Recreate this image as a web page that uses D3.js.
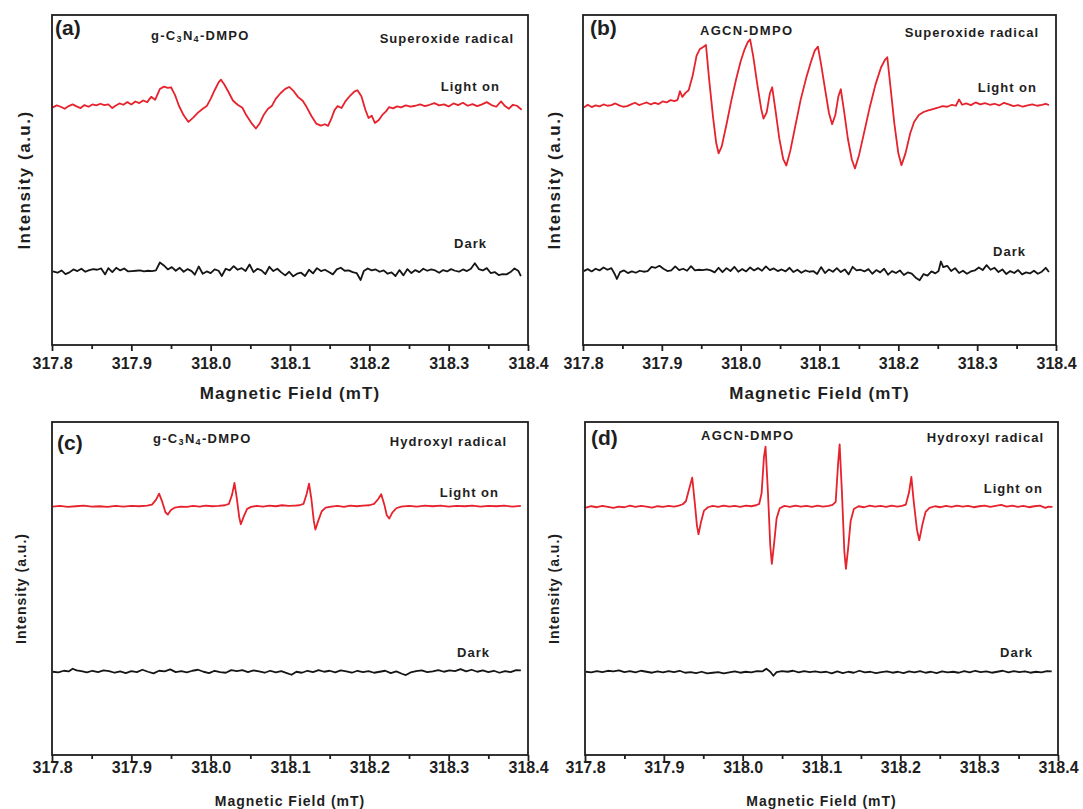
<!DOCTYPE html>
<html lang="en">
<head>
<meta charset="utf-8">
<title>EPR DMPO spin trapping</title>
<script src="https://cdn.jsdelivr.net/npm/d3@7"></script>
<style>
body { margin: 0; background: #fff; }
svg text { font-family: Arial, "Liberation Sans", sans-serif; font-weight: bold; fill: #1e1e1e; }
</style>
</head>
<body>
<div id="wrapper"></div>
<script>
// ---- data (magnetic field in mT, intensity in arbitrary units 0-100 of the frame) ----
const fieldDomain = [317.8, 318.4]
const fieldTicks = [317.8, 317.9, 318.0, 318.1, 318.2, 318.3, 318.4]
const fieldMinorTicks = [317.85, 317.95, 318.05, 318.15, 318.25, 318.35]
const panelLetters = ["(a)", "(b)", "(c)", "(d)"]
const sampleNames = ["g-C3N4-DMPO", "AGCN-DMPO", "g-C3N4-DMPO", "AGCN-DMPO"]
const radicalNames = ["Superoxide radical", "Superoxide radical", "Hydroxyl radical", "Hydroxyl radical"]
const seriesNames = ["Light on", "Dark"]
const xTitle = "Magnetic Field (mT)"
const yTitle = "Intensity (a.u.)"

const aLight = [[317.801,72.0],[317.806,72.6],[317.811,72.2],[317.816,71.6],[317.821,72.4],[317.826,72.9],[317.831,72.3],[317.836,71.8],[317.841,72.7],[317.846,72.2],[317.851,72.9],[317.856,72.6],[317.861,73.1],[317.866,72.7],[317.871,72.9],[317.876,71.8],[317.880,72.5],[317.885,73.2],[317.890,72.8],[317.895,73.6],[317.900,72.9],[317.905,73.8],[317.910,73.3],[317.915,74.1],[317.920,73.6],[317.925,75.2],[317.930,74.3],[317.936,77.6],[317.941,78.3],[317.946,77.9],[317.950,78.1],[317.955,75.8],[317.960,72.5],[317.966,69.6],[317.972,67.6],[317.978,68.9],[317.984,70.4],[317.990,71.6],[317.995,72.4],[318.000,74.6],[318.005,77.2],[318.010,79.6],[318.013,80.4],[318.017,79.0],[318.022,76.9],[318.028,74.1],[318.034,72.8],[318.040,71.9],[318.045,69.6],[318.051,67.4],[318.057,65.6],[318.062,67.2],[318.067,69.8],[318.072,71.5],[318.077,72.4],[318.082,74.6],[318.088,76.3],[318.094,77.6],[318.099,78.2],[318.104,77.1],[318.110,75.2],[318.116,74.0],[318.121,72.1],[318.127,69.4],[318.133,67.1],[318.139,66.5],[318.144,66.9],[318.148,66.4],[318.152,68.5],[318.156,71.1],[318.160,72.4],[318.165,71.8],[318.170,73.9],[318.176,75.6],[318.181,76.8],[318.185,77.2],[318.190,75.4],[318.195,71.3],[318.199,68.8],[318.203,69.5],[318.207,67.3],[318.212,68.2],[318.217,69.9],[318.221,70.8],[318.225,72.1],[318.230,71.7],[318.235,72.3],[318.240,72.0],[318.246,72.6],[318.252,72.2],[318.258,72.5],[318.264,72.9],[318.270,72.4],[318.276,72.8],[318.282,73.3],[318.288,72.6],[318.294,72.9],[318.300,72.3],[318.306,73.2],[318.312,72.7],[318.318,73.4],[318.324,72.5],[318.330,73.0],[318.336,72.4],[318.342,72.9],[318.348,73.6],[318.354,72.7],[318.360,72.2],[318.366,73.8],[318.371,72.4],[318.376,71.6],[318.381,72.8],[318.386,72.5],[318.392,71.3]]

const aDark = [[317.801,22.3],[317.807,21.9],[317.812,22.6],[317.817,21.5],[317.822,22.0],[317.827,22.9],[317.832,22.4],[317.837,23.1],[317.842,22.2],[317.847,22.7],[317.852,23.0],[317.857,22.8],[317.862,23.2],[317.867,21.4],[317.871,23.3],[317.876,22.1],[317.881,23.4],[317.886,22.6],[317.891,23.2],[317.896,22.3],[317.901,22.4],[317.906,22.5],[317.911,22.6],[317.916,22.3],[317.921,22.5],[317.926,22.4],[317.931,22.6],[317.936,25.0],[317.941,24.1],[317.946,22.9],[317.951,23.6],[317.956,22.5],[317.961,23.4],[317.966,22.2],[317.971,23.0],[317.976,22.4],[317.980,21.3],[317.985,23.8],[317.990,21.6],[317.995,22.3],[318.000,21.8],[318.005,22.9],[318.010,22.5],[318.014,20.9],[318.019,23.1],[318.024,22.6],[318.029,23.9],[318.034,22.8],[318.039,23.3],[318.044,22.4],[318.049,24.4],[318.054,22.1],[318.059,23.1],[318.064,22.6],[318.069,21.5],[318.074,23.7],[318.079,22.4],[318.084,23.1],[318.089,22.0],[318.094,21.1],[318.099,22.2],[318.104,20.8],[318.109,21.6],[318.114,21.9],[318.119,20.9],[318.124,22.8],[318.129,21.7],[318.134,23.3],[318.139,22.4],[318.144,22.8],[318.149,22.1],[318.154,21.4],[318.159,22.9],[318.164,23.4],[318.169,22.5],[318.174,22.6],[318.179,22.1],[318.184,21.8],[318.189,19.7],[318.193,22.4],[318.198,23.2],[318.203,22.6],[318.208,22.9],[318.213,22.2],[318.218,22.6],[318.223,21.6],[318.228,22.0],[318.233,20.9],[318.238,22.7],[318.243,21.1],[318.248,23.0],[318.253,21.8],[318.258,22.7],[318.263,22.1],[318.268,23.1],[318.273,22.5],[318.278,22.9],[318.283,22.6],[318.288,21.9],[318.293,22.7],[318.298,22.3],[318.303,23.0],[318.308,22.5],[318.313,22.2],[318.318,22.9],[318.323,22.4],[318.328,23.1],[318.333,24.8],[318.338,23.0],[318.343,22.6],[318.348,23.3],[318.353,21.8],[318.358,22.1],[318.363,21.2],[318.368,21.5],[318.373,21.4],[318.378,22.1],[318.383,23.2],[318.388,22.4],[318.391,20.9]]

const bLight = [[317.801,72.0],[317.806,72.8],[317.811,72.1],[317.816,72.6],[317.821,72.3],[317.826,72.9],[317.831,72.5],[317.836,72.7],[317.841,73.2],[317.846,72.6],[317.851,72.2],[317.856,72.4],[317.861,72.9],[317.866,73.4],[317.871,72.7],[317.876,73.1],[317.881,73.5],[317.886,72.9],[317.891,73.4],[317.896,73.0],[317.901,73.8],[317.906,73.5],[317.911,74.2],[317.916,73.9],[317.920,74.3],[317.923,76.9],[317.926,75.2],[317.930,76.4],[317.934,77.2],[317.939,81.5],[317.944,87.6],[317.948,89.6],[317.952,90.2],[317.956,90.9],[317.960,80.5],[317.965,69.0],[317.969,61.2],[317.972,58.1],[317.976,60.2],[317.982,66.8],[317.988,73.9],[317.994,80.3],[318.000,86.0],[318.005,89.6],[318.009,91.8],[318.012,92.6],[318.016,87.4],[318.021,79.1],[318.026,71.6],[318.029,68.6],[318.033,70.5],[318.037,76.2],[318.040,78.1],[318.044,71.4],[318.049,62.6],[318.054,56.3],[318.058,54.4],[318.063,58.9],[318.069,66.0],[318.076,74.2],[318.083,80.8],[318.089,85.7],[318.094,89.2],[318.098,90.4],[318.102,85.1],[318.107,77.6],[318.112,70.3],[318.116,66.9],[318.120,69.6],[318.124,75.4],[318.127,77.5],[318.131,71.2],[318.136,62.5],[318.141,56.2],[318.145,53.5],[318.150,57.4],[318.157,64.8],[318.164,72.3],[318.171,78.9],[318.178,84.1],[318.183,86.4],[318.186,87.2],[318.190,78.3],[318.195,67.0],[318.200,58.1],[318.204,54.5],[318.209,58.0],[318.215,64.1],[318.220,67.6],[318.226,69.7],[318.232,70.6],[318.238,71.1],[318.244,71.5],[318.250,71.9],[318.256,72.4],[318.262,72.2],[318.268,72.8],[318.273,72.5],[318.277,74.4],[318.281,72.8],[318.286,73.2],[318.292,72.7],[318.298,73.5],[318.304,72.9],[318.310,73.3],[318.316,72.8],[318.322,73.1],[318.328,72.6],[318.334,73.4],[318.340,72.9],[318.346,72.4],[318.352,72.7],[318.358,72.2],[318.364,72.6],[318.370,72.9],[318.376,72.5],[318.382,72.8],[318.387,73.1],[318.391,72.7]]

const bDark = [[317.801,22.4],[317.806,23.0],[317.811,22.3],[317.816,23.1],[317.821,22.6],[317.826,23.5],[317.831,22.8],[317.836,23.3],[317.840,21.6],[317.843,20.0],[317.847,22.1],[317.852,22.6],[317.857,21.8],[317.862,22.3],[317.867,21.9],[317.872,22.5],[317.877,22.2],[317.882,22.4],[317.887,23.7],[317.892,23.4],[317.897,24.0],[317.902,23.1],[317.907,22.4],[317.912,22.6],[317.917,23.8],[317.922,22.7],[317.927,23.1],[317.932,22.5],[317.937,23.9],[317.942,22.6],[317.947,22.8],[317.952,22.7],[317.957,22.9],[317.962,22.6],[317.967,22.0],[317.972,23.4],[317.977,22.1],[317.982,23.3],[317.987,22.4],[317.992,23.7],[317.997,22.2],[318.002,23.0],[318.007,22.3],[318.012,23.5],[318.017,22.6],[318.022,23.3],[318.027,22.5],[318.032,23.8],[318.037,22.7],[318.042,23.2],[318.047,22.4],[318.052,22.9],[318.057,22.3],[318.062,23.4],[318.067,22.1],[318.072,22.8],[318.077,21.9],[318.082,22.6],[318.087,22.2],[318.092,22.4],[318.097,21.5],[318.102,23.6],[318.107,21.8],[318.112,22.9],[318.117,22.2],[318.122,23.3],[318.127,22.1],[318.132,22.9],[318.137,21.4],[318.142,23.7],[318.147,22.6],[318.152,22.8],[318.157,22.3],[318.162,23.0],[318.167,21.6],[318.172,22.7],[318.177,22.0],[318.182,23.1],[318.187,21.3],[318.192,22.4],[318.197,21.8],[318.202,22.6],[318.207,21.2],[318.212,22.0],[318.217,21.6],[318.222,20.4],[318.227,19.6],[318.232,21.5],[318.237,21.0],[318.242,22.3],[318.247,21.7],[318.251,22.4],[318.254,25.3],[318.257,23.6],[318.262,24.0],[318.267,22.4],[318.272,23.3],[318.277,21.8],[318.282,22.5],[318.287,21.6],[318.292,22.3],[318.297,22.6],[318.302,23.5],[318.307,22.7],[318.312,24.2],[318.317,22.8],[318.322,23.4],[318.327,22.1],[318.332,22.9],[318.337,21.5],[318.342,22.4],[318.347,21.8],[318.352,22.7],[318.357,21.4],[318.362,22.0],[318.367,21.7],[318.372,22.5],[318.377,21.6],[318.382,22.2],[318.387,23.4],[318.391,22.1]]

const cLight = [[317.801,74.6],[317.810,74.8],[317.820,74.5],[317.830,74.7],[317.840,74.9],[317.850,74.6],[317.860,74.7],[317.870,74.5],[317.880,74.8],[317.890,74.6],[317.900,74.8],[317.910,74.7],[317.920,74.9],[317.926,75.2],[317.931,76.6],[317.935,78.5],[317.939,76.0],[317.943,72.9],[317.946,72.2],[317.950,73.6],[317.955,74.3],[317.962,74.6],[317.970,74.5],[317.978,74.8],[317.986,74.6],[317.994,74.9],[318.002,74.7],[318.010,74.8],[318.018,75.0],[318.023,75.4],[318.027,78.2],[318.030,81.7],[318.033,77.0],[318.036,71.4],[318.038,69.3],[318.042,71.8],[318.046,73.9],[318.051,74.5],[318.058,74.8],[318.066,74.6],[318.074,74.9],[318.082,74.7],[318.090,75.0],[318.098,74.8],[318.106,74.9],[318.112,75.0],[318.117,75.4],[318.121,78.4],[318.124,81.5],[318.127,76.8],[318.130,70.3],[318.132,67.7],[318.136,70.6],[318.140,73.2],[318.145,74.3],[318.152,74.6],[318.160,74.8],[318.168,74.5],[318.176,74.9],[318.184,74.7],[318.192,74.9],[318.200,75.0],[318.206,75.4],[318.211,76.8],[318.215,78.3],[318.219,75.1],[318.222,72.0],[318.225,71.0],[318.229,72.8],[318.234,74.1],[318.240,74.6],[318.250,74.8],[318.260,74.6],[318.270,74.9],[318.280,74.7],[318.290,74.9],[318.300,74.6],[318.310,74.8],[318.320,74.7],[318.330,74.9],[318.340,74.6],[318.350,74.8],[318.360,74.7],[318.370,74.9],[318.380,74.6],[318.391,74.8]]

const cDark = [[317.801,25.0],[317.808,24.8],[317.815,25.3],[317.821,25.1],[317.826,25.9],[317.831,25.4],[317.837,25.2],[317.844,24.8],[317.851,25.3],[317.858,24.9],[317.865,25.4],[317.872,25.2],[317.879,24.7],[317.886,25.1],[317.893,24.6],[317.900,25.2],[317.907,24.9],[317.914,25.6],[317.921,25.0],[317.928,24.5],[317.935,25.3],[317.942,25.1],[317.949,25.7],[317.956,24.9],[317.963,25.2],[317.970,24.8],[317.977,25.3],[317.984,25.6],[317.991,25.0],[317.998,24.6],[318.005,25.3],[318.012,24.9],[318.019,24.7],[318.026,25.5],[318.033,25.2],[318.040,25.5],[318.047,24.9],[318.054,25.4],[318.061,25.1],[318.068,24.7],[318.075,25.3],[318.082,24.8],[318.089,25.2],[318.096,24.6],[318.102,24.1],[318.108,25.0],[318.115,24.7],[318.122,25.3],[318.129,24.9],[318.136,25.5],[318.143,25.0],[318.150,25.3],[318.157,24.8],[318.164,25.4],[318.171,25.1],[318.178,24.7],[318.185,25.3],[318.192,24.9],[318.199,25.2],[318.206,24.7],[318.213,25.0],[318.220,25.3],[318.227,24.6],[318.234,25.1],[318.241,24.4],[318.246,24.0],[318.252,24.8],[318.259,25.2],[318.266,25.4],[318.273,24.9],[318.280,25.1],[318.287,25.5],[318.294,25.0],[318.301,25.4],[318.308,25.2],[318.315,25.8],[318.322,25.1],[318.329,25.6],[318.336,25.0],[318.343,25.4],[318.350,24.9],[318.357,25.3],[318.364,24.7],[318.371,25.2],[318.378,24.9],[318.385,25.5],[318.391,25.4]]

const dLight = [[317.801,74.3],[317.808,74.7],[317.815,74.4],[317.822,74.8],[317.829,74.5],[317.836,74.2],[317.843,74.6],[317.850,74.4],[317.857,74.9],[317.864,74.5],[317.871,74.8],[317.878,74.6],[317.885,74.3],[317.892,74.7],[317.899,74.5],[317.906,74.8],[317.913,74.6],[317.919,74.9],[317.924,75.3],[317.928,76.2],[317.932,79.8],[317.936,83.3],[317.939,76.4],[317.942,68.9],[317.944,66.3],[317.947,69.8],[317.951,73.4],[317.956,74.4],[317.962,74.8],[317.969,74.5],[317.976,74.9],[317.983,74.6],[317.990,74.8],[317.997,74.5],[318.004,74.9],[318.011,74.7],[318.017,75.0],[318.021,75.4],[318.024,78.6],[318.027,89.5],[318.029,92.6],[318.032,79.2],[318.035,63.0],[318.037,57.4],[318.040,63.8],[318.043,71.0],[318.047,74.1],[318.053,74.8],[318.060,74.5],[318.067,74.9],[318.074,74.6],[318.081,74.8],[318.088,74.5],[318.095,74.9],[318.102,74.6],[318.109,74.8],[318.114,75.1],[318.118,76.0],[318.121,87.4],[318.123,93.3],[318.126,78.5],[318.129,61.0],[318.131,55.9],[318.134,62.6],[318.137,70.3],[318.141,73.9],[318.147,74.7],[318.154,74.4],[318.161,74.9],[318.168,74.6],[318.175,74.8],[318.182,74.5],[318.189,74.9],[318.196,74.6],[318.202,74.8],[318.207,75.2],[318.211,78.8],[318.214,83.5],[318.217,76.1],[318.221,67.8],[318.224,64.5],[318.228,69.2],[318.232,73.0],[318.237,74.2],[318.244,74.7],[318.251,74.4],[318.258,74.8],[318.265,74.5],[318.272,74.9],[318.279,74.6],[318.286,74.8],[318.293,74.4],[318.300,74.7],[318.307,74.9],[318.314,74.5],[318.321,74.8],[318.328,75.1],[318.335,74.6],[318.342,74.9],[318.349,74.5],[318.356,74.8],[318.363,74.4],[318.370,74.7],[318.377,74.9],[318.384,74.2],[318.388,74.6],[318.393,74.5]]

const dDark = [[317.801,25.0],[317.808,24.8],[317.815,25.2],[317.822,24.9],[317.829,25.3],[317.836,25.1],[317.843,25.4],[317.850,24.9],[317.857,25.2],[317.864,24.8],[317.871,25.3],[317.878,25.0],[317.885,24.7],[317.892,25.1],[317.899,24.8],[317.906,25.2],[317.913,24.9],[317.920,25.3],[317.927,24.7],[317.934,24.9],[317.941,24.6],[317.948,25.0],[317.955,24.5],[317.962,24.7],[317.969,24.9],[317.976,24.5],[317.983,24.8],[317.990,25.1],[317.997,24.7],[318.004,25.0],[318.011,24.8],[318.018,25.2],[318.025,25.1],[318.030,25.9],[318.035,25.0],[318.039,23.8],[318.043,24.9],[318.050,25.2],[318.057,25.0],[318.064,25.3],[318.071,24.8],[318.078,25.2],[318.085,24.9],[318.092,25.1],[318.099,24.8],[318.106,25.0],[318.113,24.5],[318.120,25.1],[318.127,24.6],[318.134,25.0],[318.141,24.7],[318.148,25.3],[318.155,24.8],[318.162,25.0],[318.169,24.6],[318.176,24.9],[318.183,25.1],[318.190,24.7],[318.197,25.0],[318.204,24.6],[318.211,25.1],[318.218,24.8],[318.225,25.2],[318.232,24.7],[318.239,25.0],[318.246,24.6],[318.253,25.1],[318.260,24.8],[318.267,25.0],[318.274,24.7],[318.281,25.2],[318.288,24.8],[318.295,25.3],[318.302,24.9],[318.309,25.1],[318.316,24.7],[318.323,25.0],[318.330,25.3],[318.337,24.8],[318.344,25.2],[318.351,24.9],[318.358,25.1],[318.365,24.7],[318.372,25.0],[318.379,24.8],[318.386,25.2],[318.392,25.1]]

const lightSeries = [aLight, bLight, cLight, dLight]
const darkSeries = [aDark, bDark, cDark, dDark]

// ---- layout ----
const width = 1083
const height = 809
const layouts = [
    { x0: 52, x1: 528, y0: 15, y1: 345, tickPad: 7, xTitleY: 393, xTitleSize: 17, xTitleSpacing: 1.1, yTitleX: 24, yTitleSize: 17, yTitleSpacing: 1.5,
      letter: [55, 27], sample: [151, 35], radical: [514, 38], light: [500, 86], dark: [487, 243] },
    { x0: 583, x1: 1056, y0: 15, y1: 345, tickPad: 7, xTitleY: 393, xTitleSize: 17, xTitleSpacing: 1.1, yTitleX: 554, yTitleSize: 17, yTitleSpacing: 1.5,
      letter: [590, 27], sample: [700, 30], radical: [1039, 32], light: [1037, 87], dark: [1026, 251] },
    { x0: 52, x1: 528, y0: 422, y1: 755, tickPad: 1, xTitleY: 801, xTitleSize: 14, xTitleSpacing: 1, yTitleX: 21, yTitleSize: 14, yTitleSpacing: 1,
      letter: [57, 442], sample: [153, 438], radical: [507, 441], light: [499, 492], dark: [490, 652] },
    { x0: 585, x1: 1058, y0: 422, y1: 755, tickPad: 1, xTitleY: 801, xTitleSize: 14, xTitleSpacing: 1, yTitleX: 554, yTitleSize: 14, yTitleSpacing: 1,
      letter: [591, 437], sample: [701, 435], radical: [1044, 437], light: [1043, 488], dark: [1033, 652] }
]

const svg = d3.select("#wrapper")
    .append("svg")
    .attr("width", width)
    .attr("height", height)

function label(g, x, y, str, size, anchor, spacing) {
    return g.append("text")
        .attr("x", x)
        .attr("y", y)
        .attr("text-anchor", anchor || "start")
        .attr("dominant-baseline", "central")
        .style("font-size", size + "px")
        .style("letter-spacing", (spacing || 0) + "px")
        .text(str)
}

// sample names: digits after letters become subscripts
function sampleLabel(g, x, y, str) {
    const t = g.append("text")
        .attr("x", x)
        .attr("y", y)
        .attr("dominant-baseline", "central")
        .style("font-size", "13px")
        .style("letter-spacing", "1.3px")
    const parts = str.match(/\d+|\D+/g)
    let shifted = false
    parts.forEach(p => {
        const isSub = /\d/.test(p)
        const ts = t.append("tspan").text(p)
        if (isSub) {
            ts.attr("dy", 4).style("font-size", "9px")
            shifted = true
        } else if (shifted) {
            ts.attr("dy", -4)
            shifted = false
        }
    })
}

layouts.forEach((L, i) => {
    const g = svg.append("g")

    const x = d3.scaleLinear().domain(fieldDomain).range([L.x0, L.x1])
    const y = d3.scaleLinear().domain([0, 100]).range([L.y1, L.y0])

    const line = d3.line()
        .x(d => x(d[0]))
        .y(d => y(d[1]))

    g.append("path")
        .datum(darkSeries[i])
        .attr("d", line)
        .attr("fill", "none")
        .attr("stroke", "#151515")
        .attr("stroke-width", 1.8)
        .attr("stroke-linejoin", "round")

    g.append("path")
        .datum(lightSeries[i])
        .attr("d", line)
        .attr("fill", "none")
        .attr("stroke", "#e6222c")
        .attr("stroke-width", 1.8)
        .attr("stroke-linejoin", "round")

    // frame
    g.append("rect")
        .attr("x", L.x0)
        .attr("y", L.y0)
        .attr("width", L.x1 - L.x0)
        .attr("height", L.y1 - L.y0)
        .attr("fill", "none")
        .attr("stroke", "#1e1e1e")
        .attr("stroke-width", 1.8)

    // bottom axis, major and minor ticks
    const axisG = g.append("g")
        .attr("transform", `translate(0,${L.y1})`)
        .call(d3.axisBottom(x).tickValues(fieldTicks).tickSize(6).tickPadding(L.tickPad).tickFormat(d3.format(".1f")))
    axisG.select(".domain").remove()
    axisG.selectAll("line").attr("stroke", "#1e1e1e").attr("stroke-width", 1.8)
    axisG.selectAll("text").attr("fill", null).style("font-size", "16px")
    axisG.attr("font-family", null).attr("font-size", null)

    const minorG = g.append("g")
        .attr("transform", `translate(0,${L.y1})`)
        .call(d3.axisBottom(x).tickValues(fieldMinorTicks).tickSize(4).tickFormat(""))
    minorG.select(".domain").remove()
    minorG.selectAll("line").attr("stroke", "#1e1e1e").attr("stroke-width", 1.8)

    // axis titles
    label(g, (L.x0 + L.x1) / 2, L.xTitleY, xTitle, L.xTitleSize, "middle", L.xTitleSpacing)
    label(g, 0, 0, yTitle, L.yTitleSize, "middle", L.yTitleSpacing)
        .attr("transform", `translate(${L.yTitleX},${(L.y0 + L.y1) / 2}) rotate(-90)`)

    // annotations
    label(g, L.letter[0], L.letter[1], panelLetters[i], 21, "start", 0)
    sampleLabel(g, L.sample[0], L.sample[1], sampleNames[i])
    label(g, L.radical[0], L.radical[1], radicalNames[i], 13, "end", 1)
    label(g, L.light[0], L.light[1], seriesNames[0], 13, "end", 1)
    label(g, L.dark[0], L.dark[1], seriesNames[1], 13, "end", 1)
})
</script>
</body>
</html>
